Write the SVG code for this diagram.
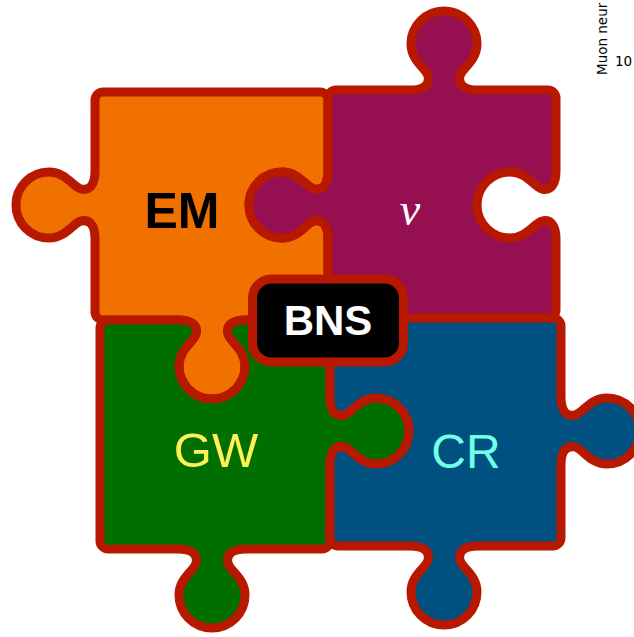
<svg xmlns="http://www.w3.org/2000/svg" width="634" height="637" viewBox="0 0 634 637">
  <style>
    .piece { stroke: #b81800; stroke-width: 9; stroke-linejoin: round; }
    .em { fill: #f07000; }
    .nu { fill: #960f50; }
    .gw { fill: #006e00; }
    .cr { fill: #005080; }
    .lbl { font-family: "Liberation Sans", Arial, Helvetica, sans-serif; text-anchor: middle; }
    .axis { font-family: "DejaVu Sans", sans-serif; font-size: 13.5px; fill: #000; }
  </style>
  <rect width="634" height="637" fill="#fff"/>

  <!-- fragment of a neighbouring plot's axis, clipped by the frame -->
  <g id="axis-label">
    <text class="axis" transform="translate(607,75) rotate(-90)">Muon neur</text>
    <text class="axis" x="615" y="66">10</text>
  </g>

  <g id="connectors"/>

  <!-- EM piece: knob left and bottom, socket right -->
  <g id="em">
    <path class="piece em" d="M103,92 H320 a8,8 0 0 1 8,8 V171
      c0,14 -5.6,20 -14,18 c-8,-2 -15,-17 -32,-17 a33,33 0 0 0 0,66 c17,0 24,-15 32,-17 c8.4,-2 14,4 14,18
      V312 a8,8 0 0 1 -8,8 H246
      c-14,0 -20,5.6 -18,14 c2,8 17,15 17,32 a33,33 0 0 1 -66,0 c0,-17 15,-24 17,-32 c2,-8.4 -4,-14 -18,-14
      H103 a8,8 0 0 1 -8,-8 V239
      c0,-14 -5.6,-20 -14,-18 c-8,2 -15,17 -32,17 a33,33 0 0 1 0,-66 c17,0 24,15 32,17 c8.4,2 14,-4 14,-18
      V100 a8,8 0 0 1 8,-8 Z"/>
    <text class="lbl" x="182" y="228" font-size="50" font-weight="bold" fill="#000">EM</text>
  </g>

  <!-- neutrino piece: knob top and left, open socket right -->
  <g id="nu">
    <path class="piece nu" d="M336,90 H410
      c14,0 20,-5.6 18,-14 c-2,-8 -17,-15 -17,-32 a33,33 0 0 1 66,0 c0,17 -15,24 -17,32 c-2,8.4 4,14 18,14
      H548 a8,8 0 0 1 8,8 V171
      c0,14 -5.6,20 -14,18 c-8,-2 -15,-17 -32,-17 a33,33 0 0 0 0,66 c17,0 24,-15 32,-17 c8.4,-2 14,4 14,18
      V310 a8,8 0 0 1 -8,8 H336 a8,8 0 0 1 -8,-8 V239
      c0,-14 -5.6,-20 -14,-18 c-8,2 -15,17 -32,17 a33,33 0 0 1 0,-66 c17,0 24,15 32,17 c8.4,2 14,-4 14,-18
      V98 a8,8 0 0 1 8,-8 Z"/>
    <text x="410" y="225" font-family="'Liberation Serif', 'DejaVu Serif', serif" font-style="italic" font-size="46" text-anchor="middle" fill="#fff">ν</text>
  </g>

  <!-- GW piece: socket top, knob right and bottom -->
  <g id="gw">
    <path class="piece gw" d="M108,320 H178
      c14,0 20,5.6 18,14 c-2,8 -17,15 -17,32 a33,33 0 0 0 66,0 c0,-17 -15,-24 -17,-32 c-2,-8.4 4,-14 18,-14
      H322 a8,8 0 0 1 8,8 V397
      c0,14 5.6,20 14,18 c8,-2 15,-17 32,-17 a33,33 0 0 1 0,66 c-17,0 -24,-15 -32,-17 c-8.4,-2 -14,4 -14,18
      V541 a8,8 0 0 1 -8,8 H246
      c-14,0 -20,5.6 -18,14 c2,8 17,15 17,32 a33,33 0 0 1 -66,0 c0,-17 15,-24 17,-32 c2,-8.4 -4,-14 -18,-14
      H108 a8,8 0 0 1 -8,-8 V328 a8,8 0 0 1 8,-8 Z"/>
    <text class="lbl" x="216" y="467" font-size="49" fill="#fff055">GW</text>
  </g>

  <!-- CR piece: socket left, knob right and bottom -->
  <g id="cr">
    <path class="piece cr" d="M338,318 H553 a8,8 0 0 1 8,8 V397
      c0,14 5.6,20 14,18 c8,-2 15,-17 32,-17 a33,33 0 0 1 0,66 c-17,0 -24,-15 -32,-17 c-8.4,-2 -14,4 -14,18
      V538 a8,8 0 0 1 -8,8 H478
      c-14,0 -20,5.6 -18,14 c2,8 17,15 17,32 a33,33 0 0 1 -66,0 c0,-17 15,-24 17,-32 c2,-8.4 -4,-14 -18,-14
      H338 a8,8 0 0 1 -8,-8 V465
      c0,-14 5.6,-20 14,-18 c8,2 15,17 32,17 a33,33 0 0 0 0,-66 c-17,0 -24,15 -32,17 c-8.4,2 -14,-4 -14,-18
      V326 a8,8 0 0 1 8,-8 Z"/>
    <text class="lbl" x="466" y="468" font-size="48" fill="#70ffe8">CR</text>
  </g>

  <!-- central BNS badge -->
  <g id="bns">
    <rect x="252.5" y="279" width="151" height="83" rx="19" fill="#000" stroke="#b81800" stroke-width="9"/>
    <text class="lbl" x="328" y="335" font-size="42" font-weight="bold" fill="#fff">BNS</text>
  </g>
</svg>
